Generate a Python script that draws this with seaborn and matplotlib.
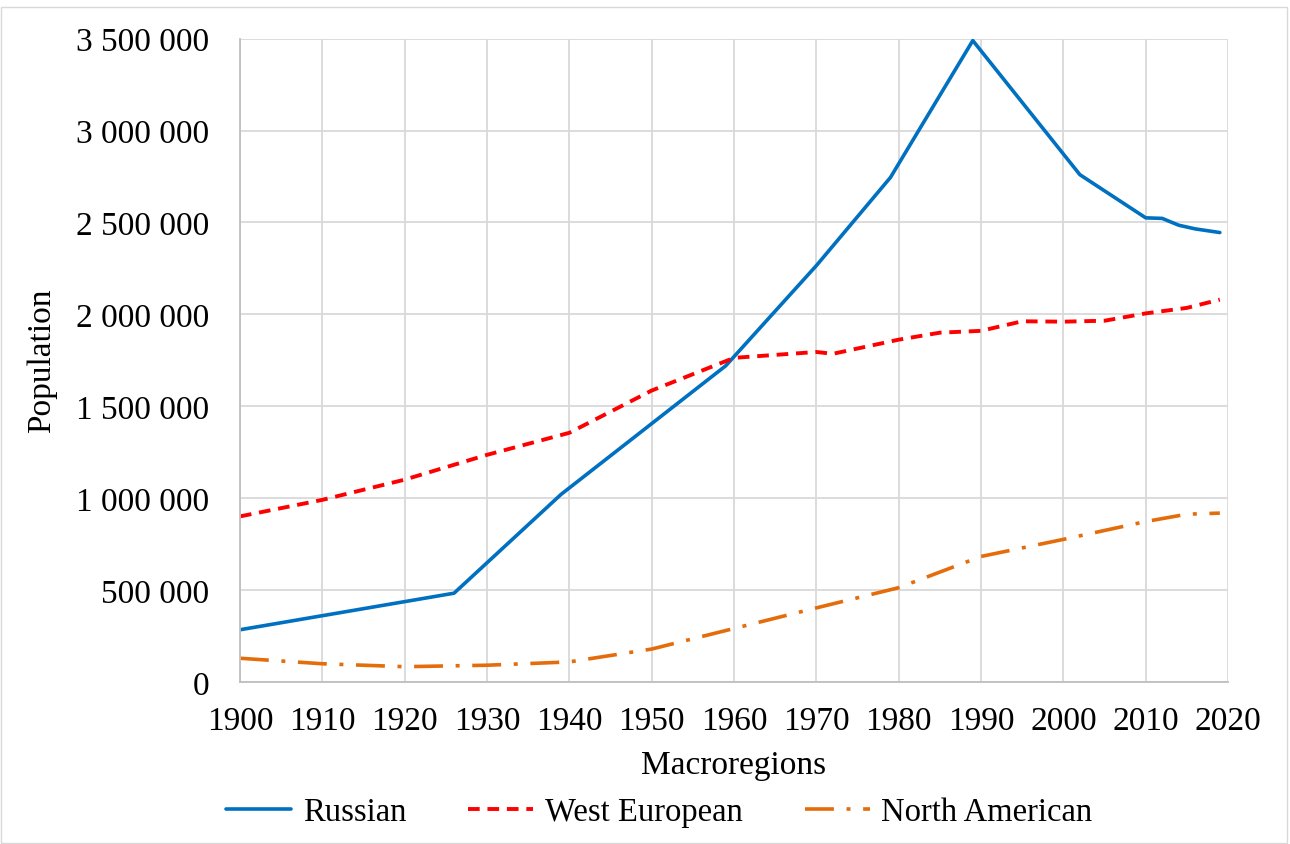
import numpy as np
import pandas as pd
import seaborn as sns
import matplotlib.pyplot as plt
from matplotlib.ticker import FuncFormatter, MultipleLocator
from matplotlib.patches import Rectangle

# values
russian_years = [1900, 1926, 1939, 1959, 1970, 1979, 1989, 2002, 2010, 2012, 2014, 2016, 2019]
russian_pop = [283000, 482000, 1020000, 1720000, 2265000, 2745000, 3490000, 2760000,
               2525000, 2522000, 2485000, 2465000, 2445000]

west_years = [1900, 1910, 1920, 1930, 1940, 1950, 1960, 1970, 1972, 1980, 1985, 1990,
              1995, 2000, 2005, 2010, 2015, 2019]
west_pop = [900000, 990000, 1100000, 1235000, 1355000, 1585000, 1763000, 1795000, 1785000,
            1862000, 1900000, 1910000, 1962000, 1960000, 1965000, 2005000, 2035000, 2080000]

na_years = [1900, 1910, 1920, 1930, 1940, 1950, 1960, 1970, 1980, 1990, 2000, 2010, 2015, 2019]
na_pop = [128000, 98000, 82000, 90000, 108000, 178000, 290000, 402000, 512000, 682000,
          775000, 872000, 912000, 918000]

series = ['Russian', 'West European', 'North American']
colors = {'Russian': '#0070C0', 'West European': '#FF0000', 'North American': '#E46C0A'}
dashes = {'Russian': '', 'West European': (3, 2), 'North American': (8, 3.5, 1.1, 3.5)}

df = pd.concat([
    pd.DataFrame({'Year': russian_years, 'Population': russian_pop, 'Macroregion': 'Russian'}),
    pd.DataFrame({'Year': west_years, 'Population': west_pop, 'Macroregion': 'West European'}),
    pd.DataFrame({'Year': na_years, 'Population': na_pop, 'Macroregion': 'North American'}),
])

sns.set_theme(style="whitegrid")
plt.rcParams['font.family'] = ['Liberation Serif', 'DejaVu Serif']
plt.rcParams['text.color'] = 'black'
plt.rcParams['axes.labelcolor'] = 'black'

fig = plt.figure(figsize=(12.9, 8.45), dpi=100)
ax = fig.add_axes([0.186, 0.192, 0.766, 0.761])

sns.lineplot(data=df, x='Year', y='Population', hue='Macroregion', style='Macroregion',
             hue_order=series, style_order=series, palette=colors, dashes=dashes,
             linewidth=2.6, ax=ax, legend=False)

lws = {'Russian': 2.6, 'West European': 2.8, 'North American': 2.6}
for line, name in zip(ax.get_lines(), series):
    line.set_linewidth(lws[name])

ax.set_xlim(1900, 2020)
ax.set_ylim(0, 3500000)
ax.xaxis.set_major_locator(MultipleLocator(10))
ax.yaxis.set_major_locator(MultipleLocator(500000))
ax.yaxis.set_major_formatter(FuncFormatter(lambda v, p: f"{int(v):,}".replace(",", " ")))
ax.grid(True, color='#d9d9d9', linewidth=1.3)
for s in ['top', 'right']:
    ax.spines[s].set_visible(False)
for s in ['left', 'bottom']:
    ax.spines[s].set_color('#bfbfbf')
    ax.spines[s].set_linewidth(1.3)
ax.tick_params(axis='both', length=0, labelsize=24, colors='black')
ax.tick_params(axis='y', pad=22)
ax.tick_params(axis='x', pad=17)
ax.set_xlabel('Macroregions', fontsize=24, labelpad=10)
ax.set_ylabel('Population', fontsize=24, labelpad=14)

handles = [plt.Line2D([], [], color=colors[n], linewidth=lws[n],
                      dashes=dashes[n] if dashes[n] else (None, None)) for n in series]
handles[0].set_linestyle('-')
fig.legend(handles, series, loc='center', bbox_to_anchor=(0.511, 0.038), ncol=3, frameon=False,
           fontsize=23.5, handlelength=2.0, columnspacing=1.9, handletextpad=0.35)

fig.patches.append(Rectangle((0.001, 0.001), 0.997, 0.989, transform=fig.transFigure,
                             fill=False, edgecolor='#d9d9d9', linewidth=1))

fig.savefig('out.png', dpi=100)
